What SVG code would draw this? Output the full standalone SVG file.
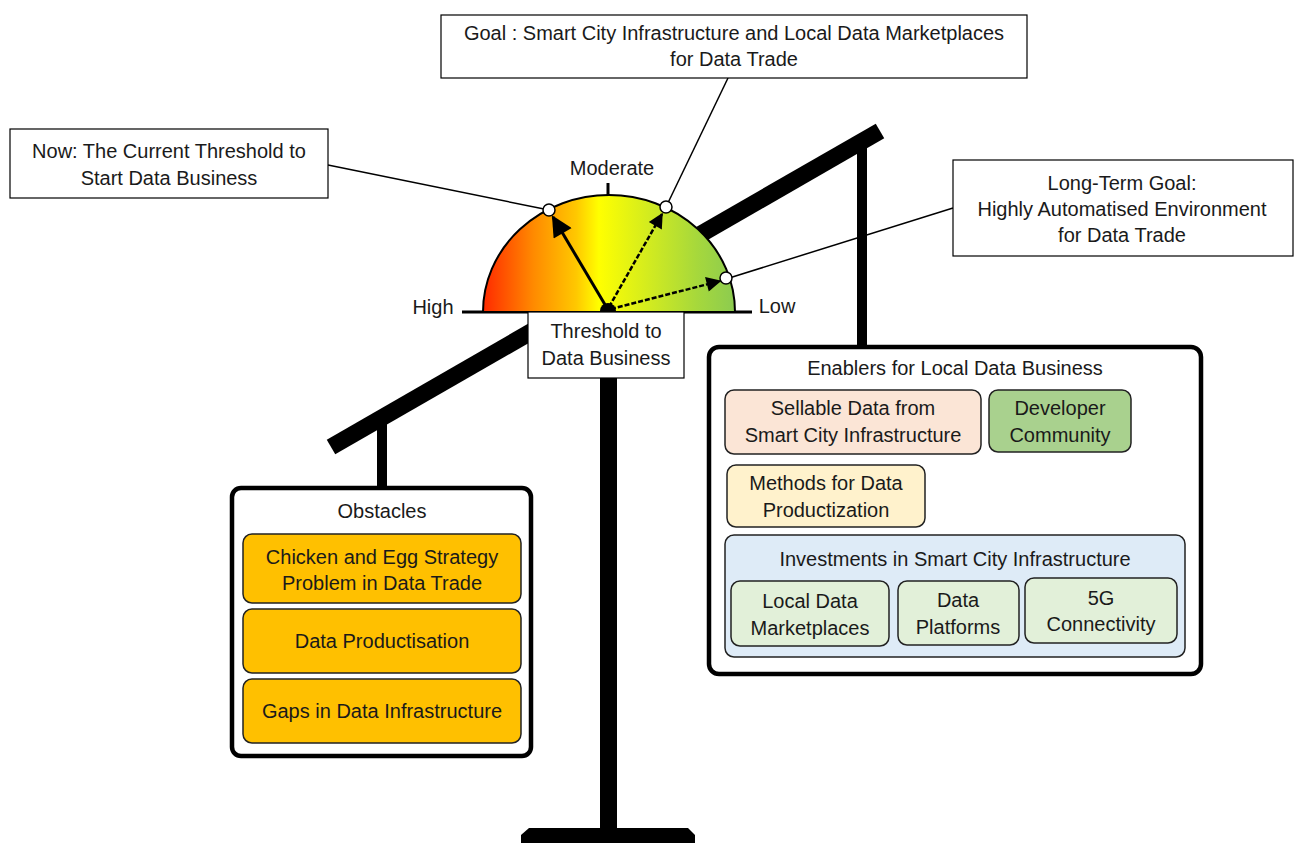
<svg xmlns="http://www.w3.org/2000/svg" width="1295" height="843" viewBox="0 0 1295 843">
<defs>
<linearGradient id="gauge" x1="483" y1="0" x2="735" y2="0" gradientUnits="userSpaceOnUse">
<stop offset="0" stop-color="#FF2A00"/>
<stop offset="0.2" stop-color="#FF8A00"/>
<stop offset="0.37" stop-color="#FFC800"/>
<stop offset="0.46" stop-color="#FFFF00"/>
<stop offset="0.65" stop-color="#D4EC1E"/>
<stop offset="0.85" stop-color="#A6D83C"/>
<stop offset="1" stop-color="#8CCB50"/>
</linearGradient>
<marker id="ah" viewBox="0 0 10 10" refX="9" refY="5" markerWidth="10" markerHeight="7" markerUnits="strokeWidth" orient="auto">
<path d="M0,0 L10,5 L0,10 z" fill="#000"/>
</marker>
<marker id="ah2" viewBox="0 0 10 10" refX="9" refY="5" markerWidth="11" markerHeight="6" markerUnits="strokeWidth" orient="auto">
<path d="M0,0 L10,5 L0,10 z" fill="#000"/>
</marker>
</defs>
<style>
text{font-family:"Liberation Sans",Arial,sans-serif;font-size:20px;fill:#1a1a1a;text-anchor:middle}
.box{fill:#fff;stroke:#000;stroke-width:1.2}
.outer{fill:#fff;stroke:#000;stroke-width:4.5}
.inner{stroke:#222;stroke-width:1.5}
.lead{stroke:#000;stroke-width:1.5;fill:none}
.dot{fill:#fff;stroke:#000;stroke-width:1.5}
</style>
<rect width="1295" height="843" fill="#fff"/>

<g id="scale">
<line x1="331" y1="447" x2="880" y2="131" stroke="#000" stroke-width="17"/>
<rect x="377" y="420" width="10" height="70" fill="#000"/>
<rect x="857" y="140" width="10" height="210" fill="#000"/>
<rect x="600" y="370" width="17" height="462" fill="#000"/>
<path d="M521,835 L529,828 L688,828 L695,835 L695,843 L521,843 z" fill="#000"/>
</g>

<g id="gauge-dial">
<line x1="462" y1="312" x2="752" y2="312" stroke="#000" stroke-width="3"/>
<path d="M483,312 A126,117 0 0 1 735,312 z" fill="url(#gauge)" stroke="#000" stroke-width="2"/>
<line x1="608" y1="183" x2="608" y2="196" stroke="#000" stroke-width="3"/>
<path d="M600,311 A8,8 0 0 1 616,311 z" fill="#000"/>
<text x="612" y="175">Moderate</text>
<text x="433" y="314">High</text>
<text x="777" y="313">Low</text>
</g>

<g id="connectors">
<line class="lead" x1="549" y1="210" x2="328" y2="165"/>
<line class="lead" x1="666" y1="207" x2="728" y2="78"/>
<line class="lead" x1="726" y1="279" x2="953" y2="208"/>
<line x1="607" y1="308" x2="553" y2="217" stroke="#000" stroke-width="3" marker-end="url(#ah)"/>
<line x1="609" y1="307" x2="662" y2="214" stroke="#000" stroke-width="2.5" stroke-dasharray="5,2" marker-end="url(#ah2)"/>
<line x1="611" y1="309" x2="720" y2="281" stroke="#000" stroke-width="2.5" stroke-dasharray="5,2" marker-end="url(#ah2)"/>
<circle class="dot" cx="549" cy="210" r="6"/>
<circle class="dot" cx="666" cy="207" r="6"/>
<circle class="dot" cx="726" cy="278" r="6"/>
</g>

<g id="goal">
<rect class="box" x="441" y="15" width="586" height="63"/>
<text x="734" y="40">Goal : Smart City Infrastructure and Local Data Marketplaces</text>
<text x="734" y="66">for Data Trade</text>
</g>

<g id="now">
<rect class="box" x="10" y="129" width="318" height="69"/>
<text x="169" y="158">Now: The Current Threshold to</text>
<text x="169" y="185">Start Data Business</text>
</g>

<g id="longterm">
<rect class="box" x="953" y="160" width="340" height="96"/>
<text x="1122" y="190">Long-Term Goal:</text>
<text x="1122" y="216">Highly Automatised Environment</text>
<text x="1122" y="242">for Data Trade</text>
</g>

<g id="threshold">
<rect class="box" x="528" y="312" width="156" height="66"/>
<text x="606" y="338">Threshold to</text>
<text x="606" y="365">Data Business</text>
</g>

<g id="obstacles">
<rect class="outer" x="232" y="488" width="299" height="268" rx="9"/>
<text x="382" y="518">Obstacles</text>
<rect class="inner" x="243" y="534" width="278" height="69" rx="9" fill="#FFC000"/>
<text x="382" y="564">Chicken and Egg Strategy</text>
<text x="382" y="590">Problem in Data Trade</text>
<rect class="inner" x="243" y="609" width="278" height="64" rx="9" fill="#FFC000"/>
<text x="382" y="648">Data Productisation</text>
<rect class="inner" x="243" y="679" width="278" height="64" rx="9" fill="#FFC000"/>
<text x="382" y="718">Gaps in Data Infrastructure</text>
</g>

<g id="enablers">
<rect class="outer" x="709" y="347" width="492" height="327" rx="10"/>
<text x="955" y="375">Enablers for Local Data Business</text>
<rect class="inner" x="725" y="390" width="256" height="64" rx="9" fill="#FBE5D6"/>
<text x="853" y="415">Sellable Data from</text>
<text x="853" y="442">Smart City Infrastructure</text>
<rect class="inner" x="989" y="390" width="142" height="62" rx="9" fill="#A9D18E"/>
<text x="1060" y="415">Developer</text>
<text x="1060" y="442">Community</text>
<rect class="inner" x="727" y="465" width="198" height="62" rx="9" fill="#FFF2CC"/>
<text x="826" y="490">Methods for Data</text>
<text x="826" y="517">Productization</text>
<rect class="inner" x="725" y="535" width="460" height="122" rx="9" fill="#DEEBF7"/>
<text x="955" y="566">Investments in Smart City Infrastructure</text>
<rect class="inner" x="731" y="581" width="158" height="65" rx="9" fill="#E2F0D9"/>
<text x="810" y="608">Local Data</text>
<text x="810" y="635">Marketplaces</text>
<rect class="inner" x="898" y="581" width="121" height="64" rx="9" fill="#E2F0D9"/>
<text x="958" y="607">Data</text>
<text x="958" y="634">Platforms</text>
<rect class="inner" x="1025" y="578" width="152" height="65" rx="9" fill="#E2F0D9"/>
<text x="1101" y="605">5G</text>
<text x="1101" y="631">Connectivity</text>
</g>
</svg>
